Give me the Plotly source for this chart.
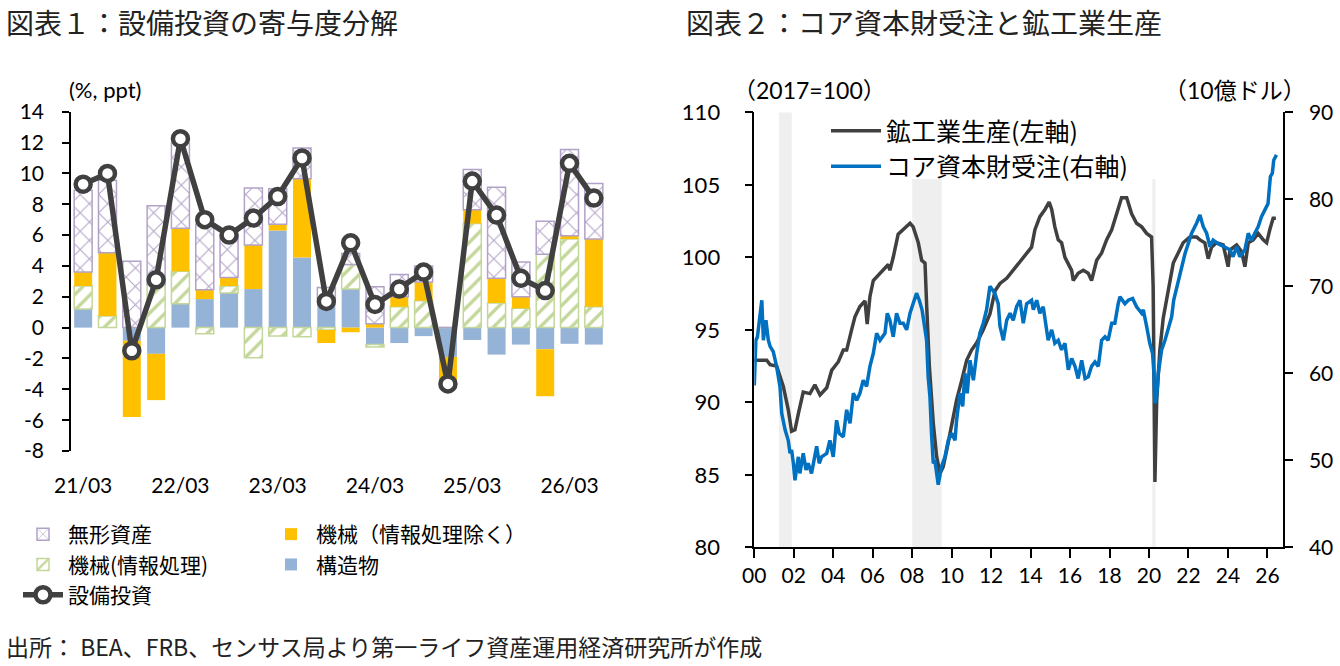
import plotly.graph_objects as go

W, H = 1340, 666

# ---------------- Left chart data (quarterly contributions, %pt) ----------------
quarters = ["21/03", "21/06", "21/09", "21/12", "22/03", "22/06", "22/09", "22/12",
            "23/03", "23/06", "23/09", "23/12", "24/03", "24/06", "24/09", "24/12",
            "25/03", "25/06", "25/09", "25/12", "26/03", "26/06"]
structures = [1.2, 0.0, -0.85, -1.7, 1.55, 1.85, 2.25, 2.5, 6.3, 4.55, 1.9,
              2.5, -1.1, -1.0, -0.55, -1.9, -0.8, -1.75, -1.1, -1.4, -1.05, -1.1]
it_equipment = [1.5, 0.75, 0.0, 2.8, 2.1, -0.4, 0.45, -1.95, -0.55, -0.6, -0.15,
                1.6, -0.15, 1.35, 1.75, 0.0, 6.75, 1.6, 1.25, 4.75, 5.75, 1.35]
equipment_ex_it = [0.9, 4.1, -4.95, -3.0, 2.8, 0.6, 0.55, 2.85, 0.4, 5.1, -0.85,
                   -0.3, 0.25, 0.65, 1.2, -1.5, 0.9, 1.6, 0.75, -3.05, 0.2, 4.4]
intangibles = [5.3, 4.7, 4.3, 5.1, 5.5, 4.25, 2.65, 3.7, 2.3, 2.0, 0.7,
               0.7, 2.4, 1.45, 1.05, 0.0, 2.6, 5.9, 2.25, 2.15, 5.6, 3.6]
total_investment = [9.3, 10.0, -1.5, 3.1, 12.25, 7.0, 6.0, 7.1, 8.5, 11.0, 1.7,
                    5.5, 1.5, 2.5, 3.6, -3.65, 9.5, 7.3, 3.2, 2.4, 10.65, 8.4]
left_label_step = 4
left_yticks = list(range(-8, 15, 2))

# ---------------- Right chart data ----------------
ip_time = [2000.0, 2000.29, 2000.63, 2000.80, 2001.13, 2001.47, 2001.72, 2001.89, 2002.06, 2002.23,
           2002.48, 2002.82, 2003.07, 2003.33, 2003.67, 2003.92, 2004.26, 2004.51, 2004.68, 2004.93,
           2005.10, 2005.35, 2005.61, 2005.72, 2005.86, 2006.03, 2006.37, 2006.62, 2006.79, 2006.87,
           2007.04, 2007.29, 2007.55, 2007.89, 2008.05, 2008.31, 2008.48, 2008.65, 2008.73, 2008.87,
           2009.07, 2009.24, 2009.41, 2009.57, 2009.75, 2010.0, 2010.25, 2010.51, 2010.76, 2011.01,
           2011.27, 2011.60, 2011.94, 2012.2, 2012.45, 2012.79, 2013.12, 2013.46, 2013.80, 2014.05,
           2014.22, 2014.47, 2014.73, 2014.94, 2015.07, 2015.23, 2015.40, 2015.57, 2015.74, 2015.91,
           2016.08, 2016.16, 2016.41, 2016.67, 2016.92, 2017.09, 2017.35, 2017.60, 2017.85, 2018.11,
           2018.36, 2018.61, 2018.87, 2019.12, 2019.37, 2019.63, 2019.88, 2020.13, 2020.21, 2020.30,
           2020.39, 2020.55, 2020.72, 2020.89, 2021.06, 2021.23, 2021.48, 2021.73, 2022.07, 2022.41,
           2022.58, 2022.83, 2023.00, 2023.17, 2023.42, 2023.76, 2024.01, 2024.10, 2024.44, 2024.69,
           2024.86, 2025.03, 2025.28, 2025.53, 2025.79, 2025.96, 2026.12, 2026.29, 2026.43]
ip_value = [92.9, 92.9, 92.9, 92.6, 92.5, 91.1, 89.5, 88.0, 88.1, 89.2,
            90.7, 90.6, 91.2, 90.5, 91.0, 92.2, 92.8, 93.6, 93.6, 95.0,
            95.9, 96.6, 97.0, 95.4, 97.3, 98.4, 98.9, 99.2, 99.5, 99.1,
            100.0, 101.6, 101.9, 102.35, 102.1, 101.0, 99.8, 99.6, 96.8, 92.5,
            88.55, 86.25, 85.1, 85.55, 86.7, 88.55, 90.15, 91.5, 92.9, 93.6,
            94.1, 95.0, 96.1, 97.7, 98.2, 98.55, 99.1, 99.7, 100.3, 100.7,
            101.9, 102.8, 103.3, 103.8, 103.3, 102.1, 101.2, 101.0, 100.0, 99.6,
            99.1, 98.4, 98.9, 99.1, 98.9, 98.4, 99.8, 100.3, 101.2, 101.9,
            103.0, 104.1, 104.1, 103.0, 102.35, 102.1, 101.65, 101.4, 98.0, 84.5,
            90.15, 93.6, 95.8, 97.05, 98.4, 99.6, 100.3, 101.0, 101.4, 101.4,
            101.2, 101.0, 99.9, 100.7, 101.0, 100.85, 99.35, 100.5, 100.85, 100.4,
            99.35, 101.0, 101.2, 101.65, 101.2, 101.0, 101.9, 102.7, 102.7]

orders_time = [2000.00, 2000.08, 2000.16, 2000.38, 2000.46, 2000.59, 2000.71, 2000.80, 2000.96, 2001.13,
               2001.30, 2001.39, 2001.56, 2001.72, 2001.81, 2001.89, 2001.98, 2002.06, 2002.23, 2002.31,
               2002.48, 2002.62, 2002.73, 2002.90, 2003.16, 2003.29, 2003.41, 2003.67, 2003.83, 2004.00,
               2004.17, 2004.30, 2004.51, 2004.68, 2004.85, 2005.02, 2005.19, 2005.35, 2005.52, 2005.69,
               2005.86, 2006.03, 2006.20, 2006.37, 2006.62, 2006.74, 2006.87, 2007.04, 2007.21, 2007.38,
               2007.55, 2007.72, 2007.89, 2008.05, 2008.22, 2008.36, 2008.50, 2008.58, 2008.73, 2008.81,
               2008.90, 2008.98, 2009.07, 2009.15, 2009.32, 2009.49, 2009.66, 2009.83, 2010.00, 2010.17,
               2010.25, 2010.42, 2010.56, 2010.67, 2010.79, 2010.93, 2011.10, 2011.27, 2011.43, 2011.60,
               2011.77, 2011.94, 2012.19, 2012.36, 2012.45, 2012.62, 2012.79, 2012.96, 2013.12, 2013.29,
               2013.46, 2013.63, 2013.80, 2014.05, 2014.14, 2014.31, 2014.47, 2014.64, 2014.81, 2014.89,
               2015.07, 2015.23, 2015.40, 2015.57, 2015.74, 2015.91, 2016.08, 2016.25, 2016.41, 2016.59,
               2016.76, 2016.92, 2017.09, 2017.26, 2017.43, 2017.60, 2017.77, 2017.93, 2018.11, 2018.27,
               2018.44, 2018.53, 2018.78, 2018.95, 2019.17, 2019.37, 2019.63, 2019.71, 2019.88, 2020.04,
               2020.18, 2020.25, 2020.30, 2020.39, 2020.47, 2020.64, 2020.81, 2020.98, 2021.15, 2021.25,
               2021.48, 2021.65, 2021.83, 2021.99, 2022.16, 2022.41, 2022.58, 2022.75, 2022.92, 2023.09,
               2023.25, 2023.50, 2023.76, 2024.10, 2024.26, 2024.44, 2024.60, 2024.86, 2025.03, 2025.19,
               2025.36, 2025.53, 2025.70, 2025.87, 2026.03, 2026.15, 2026.25, 2026.32, 2026.46]
orders_value = [58.6, 63.8, 64.2, 68.4, 63.8, 66.1, 63.8, 63.1, 62.5, 60.8,
                58.5, 55.4, 53.5, 52.3, 50.8, 51.2, 49.65, 47.7, 50.4, 48.5,
                50.8, 48.9, 49.65, 48.5, 51.6, 49.65, 50.4, 50.8, 52.3, 50.4,
                54.6, 53.1, 52.7, 55.8, 54.25, 57.7, 56.9, 57.7, 59.2, 58.5,
                60.8, 62.3, 64.6, 63.8, 64.6, 66.9, 66.1, 64.2, 66.9, 65.75,
                65.75, 65.0, 66.9, 68.0, 69.2, 68.4, 67.3, 66.1, 63.8, 59.6,
                57.3, 53.1, 49.65, 50.0, 47.2, 49.3, 50.4, 52.3, 53.1, 52.3,
                54.6, 57.7, 56.2, 60.0, 57.7, 61.5, 59.2, 62.3, 64.6, 65.75,
                67.3, 70.0, 69.2, 68.0, 65.4, 63.8, 66.1, 66.9, 66.1, 67.65,
                68.4, 65.75, 68.0, 68.4, 67.3, 68.4, 66.9, 67.65, 65.4, 63.8,
                65.0, 63.45, 63.8, 62.7, 63.45, 60.4, 61.7, 60.8, 59.4, 61.5,
                59.4, 59.6, 60.8, 61.3, 60.8, 63.8, 64.2, 63.8, 65.75, 65.75,
                68.0, 68.8, 68.0, 68.4, 68.6, 67.65, 66.9, 67.3, 65.4, 63.45,
                62.3, 60.0, 56.55, 57.3, 60.0, 62.7, 63.8, 65.0, 66.5, 68.4,
                70.7, 72.25, 73.8, 74.9, 76.1, 77.25, 78.2, 76.85, 76.1, 74.55,
                75.3, 74.9, 74.55, 74.2, 73.4, 74.55, 73.4, 74.2, 76.1, 75.3,
                76.1, 76.85, 78.0, 78.8, 79.5, 82.6, 83.0, 84.5, 85.1]

rec_start = [2001.25, 2008.0, 2020.17]
rec_end = [2001.9, 2009.5, 2020.33]
rec_top = [110, 105.4, 105.4]

right_years = list(range(2000, 2027, 2))
right_ylabels_left = list(range(80, 111, 5))
right_ylabels_right = list(range(40, 91, 10))

# ---------------- Styles ----------------
NUM_FONT = "Lato, Noto Sans CJK JP, sans-serif"
JP_FONT = "Noto Sans CJK JP, sans-serif"
C_PURPLE = "#B3A2C7"
C_GREEN = "#C4D79B"
C_ORANGE = "#FFC000"
C_BLUE = "#95B3D7"
C_DARK = "#404040"
C_LINEBLUE = "#0070C0"


def px_x(p):
    return p / W


def px_y(p):
    return 1 - p / H


# plot area geometry (pixels)
L_X0, L_X1, L_Y0, L_Y1 = 71, 606, 111.7, 451
R_X0, R_X1, R_Y0, R_Y1 = 754.3, 1283, 112.3, 547.3

n = len(quarters)
xs = list(range(n))

fig = go.Figure()

fig.add_trace(go.Bar(x=xs, y=structures, name="構造物", legend="legend2", legendrank=2,
                     marker=dict(color=C_BLUE, line=dict(width=0)), width=0.74))
fig.add_trace(go.Bar(x=xs, y=it_equipment, name="機械(情報処理)", legend="legend", legendrank=2,
                     marker=dict(color="white", line=dict(color=C_GREEN, width=1.5),
                                 pattern=dict(shape="/", fgcolor=C_GREEN, bgcolor="white",
                                              size=11, solidity=0.3, fillmode="replace")),
                     width=0.74))
fig.add_trace(go.Bar(x=xs, y=equipment_ex_it, name="機械（情報処理除く）", legend="legend2", legendrank=1,
                     marker=dict(color=C_ORANGE, line=dict(width=0)), width=0.74))
fig.add_trace(go.Bar(x=xs, y=intangibles, name="無形資産", legend="legend", legendrank=1,
                     marker=dict(color="white", line=dict(color=C_PURPLE, width=1.5),
                                 pattern=dict(shape="x", fgcolor=C_PURPLE, bgcolor="white",
                                              size=13, solidity=0.15, fillmode="replace")),
                     width=0.74))
fig.add_trace(go.Scatter(x=xs, y=total_investment, name="設備投資", legend="legend", legendrank=3,
                         mode="lines+markers",
                         line=dict(color=C_DARK, width=5.5),
                         marker=dict(size=15, color="white", line=dict(color=C_DARK, width=4.5))))

# Right chart traces
fig.add_trace(go.Scatter(x=ip_time, y=ip_value, name="鉱工業生産(左軸)", legend="legend3",
                         xaxis="x2", yaxis="y2", mode="lines",
                         line=dict(color=C_DARK, width=3.5)))
fig.add_trace(go.Scatter(x=orders_time, y=orders_value, name="コア資本財受注(右軸)", legend="legend3",
                         xaxis="x2", yaxis="y3", mode="lines",
                         line=dict(color=C_LINEBLUE, width=3.5)))

# recession shading
for s, e, t in zip(rec_start, rec_end, rec_top):
    fig.add_shape(type="rect", xref="x2", yref="y2", x0=s, x1=e, y0=80, y1=t,
                  fillcolor="#EFEFEF", line=dict(width=0), layer="below")

lx_dom = [px_x(L_X0), px_x(L_X1)]
ly_dom = [px_y(L_Y1), px_y(L_Y0)]
rx_dom = [px_x(R_X0), px_x(R_X1)]
ry_dom = [px_y(R_Y1), px_y(R_Y0)]

ymin, ymax = left_yticks[0], left_yticks[-1]
zero_pos = ly_dom[0] + (ly_dom[1] - ly_dom[0]) * (0 - ymin) / (ymax - ymin)
boundaries = [i - 0.5 for i in range(left_label_step, n, left_label_step)]

axis_common = dict(showgrid=False, zeroline=False, automargin=False)

fig.update_layout(
    template="none",
    width=W, height=H,
    margin=dict(l=0, r=0, t=0, b=0, pad=0, autoexpand=False),
    paper_bgcolor="white", plot_bgcolor="rgba(0,0,0,0)",
    barmode="relative", bargap=0.26,
    font=dict(family=NUM_FONT, color="black", size=21),
    xaxis=dict(domain=lx_dom, anchor="y", range=[-0.5, n - 0.5], tickmode="array",
               tickvals=xs[::left_label_step], ticktext=quarters[::left_label_step],
               showline=False, ticks="", ticklabelstandoff=20,
               tickfont=dict(size=21, family=NUM_FONT), **axis_common),
    xaxis3=dict(overlaying="x", anchor="free", position=zero_pos, range=[-0.5, n - 0.5],
                tickmode="array", tickvals=boundaries, showticklabels=False,
                showline=True, linecolor="black", linewidth=1.5,
                ticks="outside", ticklen=8, tickwidth=1.5, tickcolor="black", **axis_common),
    xaxis4=dict(overlaying="x", anchor="free", position=zero_pos, range=[-0.5, n - 0.5],
                tickmode="array", tickvals=boundaries, showticklabels=False,
                showline=False, ticks="inside", ticklen=8, tickwidth=1.5, tickcolor="black",
                **axis_common),
    yaxis=dict(domain=ly_dom, anchor="x", range=[ymin, ymax], tickmode="array",
               tickvals=left_yticks, ticktext=[str(v) for v in left_yticks],
               showline=True, linecolor="black", linewidth=1.5,
               ticks="outside", ticklen=7, tickwidth=1.5, tickcolor="black",
               ticklabelstandoff=14, tickfont=dict(size=21, family=NUM_FONT), **axis_common),
    xaxis2=dict(domain=rx_dom, anchor="y2", range=[2000, 2026.79], tickmode="array",
                tickvals=right_years, ticktext=[f"{y % 100:02d}" for y in right_years],
                showline=True, linecolor="black", linewidth=1.5,
                ticks="outside", ticklen=9, tickwidth=1.5, tickcolor="black",
                ticklabelstandoff=0, tickfont=dict(size=21, family=NUM_FONT), **axis_common),
    xaxis5=dict(overlaying="x2", anchor="y2", range=[2000, 2026.79], tickmode="array",
                tickvals=right_years, showticklabels=False, showline=False,
                ticks="inside", ticklen=9, tickwidth=1.5, tickcolor="black", **axis_common),
    yaxis2=dict(domain=ry_dom, anchor="x2", range=[80, 110], tickmode="array",
                tickvals=right_ylabels_left, showline=True, linecolor="black", linewidth=1.5,
                ticks="outside", ticklen=8, tickwidth=1.5, tickcolor="black",
                ticklabelstandoff=20, tickfont=dict(size=22, family=NUM_FONT), **axis_common),
    yaxis3=dict(overlaying="y2", anchor="x2", side="right", range=[40, 90], tickmode="array",
                tickvals=right_ylabels_right, showline=True, linecolor="black", linewidth=1.5,
                ticks="outside", ticklen=8, tickwidth=1.5, tickcolor="black",
                ticklabelstandoff=12, tickfont=dict(size=21, family=NUM_FONT), **axis_common),
    legend=dict(x=px_x(18), y=px_y(514), xanchor="left", yanchor="top",
                bgcolor="rgba(0,0,0,0)", font=dict(size=21, family=JP_FONT),
                tracegroupgap=0, itemwidth=40),
    legend2=dict(x=px_x(266), y=px_y(514), xanchor="left", yanchor="top",
                 bgcolor="rgba(0,0,0,0)", font=dict(size=21, family=JP_FONT),
                 tracegroupgap=0, itemwidth=40),
    legend3=dict(x=px_x(826), y=px_y(108), xanchor="left", yanchor="top",
                 bgcolor="rgba(0,0,0,0)", font=dict(size=25, family=JP_FONT),
                 tracegroupgap=0, itemwidth=50),
)

annots = [
    dict(x=px_x(4), y=px_y(22), text="図表１：設備投資の寄与度分解", xanchor="left", yanchor="middle",
         font=dict(size=28, family=JP_FONT, color="#222222")),
    dict(x=px_x(684), y=px_y(22), text="図表２：コア資本財受注と鉱工業生産", xanchor="left", yanchor="middle",
         font=dict(size=28, family=JP_FONT, color="#222222")),
    dict(x=px_x(67), y=px_y(90), text="(%, ppt)", xanchor="left", yanchor="middle",
         font=dict(size=22, family=NUM_FONT)),
    dict(x=px_x(731), y=px_y(90), text="（2017=100）", xanchor="left", yanchor="middle",
         font=dict(size=23, family=NUM_FONT)),
    dict(x=px_x(1308), y=px_y(90), text="（10億ドル）", xanchor="right", yanchor="middle",
         font=dict(size=23, family=NUM_FONT)),
    dict(x=px_x(4), y=px_y(665), text="出所： BEA、FRB、センサス局より第一ライフ資産運用経済研究所が作成",
         xanchor="left", yanchor="bottom", font=dict(size=23, family=JP_FONT, color="#222222")),
]
for a in annots:
    a.update(xref="paper", yref="paper", showarrow=False)
    fig.add_annotation(**a)

fig.write_html("out.html")
